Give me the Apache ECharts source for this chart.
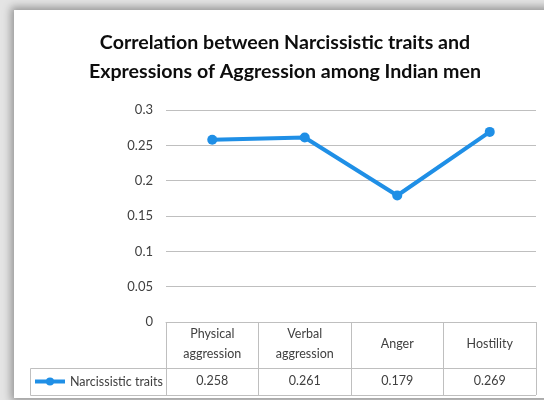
<!DOCTYPE html>
<html>
<head>
<meta charset="utf-8">
<script src="https://cdn.jsdelivr.net/npm/echarts@6/dist/echarts.min.js"></script>
<style>
html,body{margin:0;padding:0;width:544px;height:400px;overflow:hidden;background:#e4e4e4;}
#frame{position:absolute;left:14px;top:10px;width:540px;height:388px;background:#fff;box-shadow:0 0 8px 3px rgba(0,0,0,0.35);}
#chart{position:absolute;left:0;top:0;width:544px;height:400px;}
</style>
</head>
<body>
<div id="frame"></div>
<div id="chart"></div>
<script>
const titleLines = ['Correlation between Narcissistic traits and', 'Expressions of Aggression among Indian men'];
const categories = ['Physical\naggression', 'Verbal\naggression', 'Anger', 'Hostility'];
const seriesName = 'Narcissistic traits';
const values = [0.258, 0.261, 0.179, 0.269];
const yTicks = {min: 0, max: 0.3, interval: 0.05};

const labelColor = '#404040';
const borderColor = '#bfbfbf';
const lineColor = '#1f8fe6';
const font = 'Lato';

const chart = echarts.init(document.getElementById('chart'), null, {renderer: 'canvas'});
const option = {
  backgroundColor: 'transparent',
  animation: false,
  title: {
    text: titleLines.join('\n'),
    left: 280, top: 23, textAlign: 'center',
    textStyle: {fontFamily: font, fontWeight: 'bold', fontSize: 19.6, lineHeight: 29, color: '#0d0d0d'}
  },
  legend: {
    data: [seriesName],
    left: 33, top: 375, padding: 0,
    itemWidth: 30, itemHeight: 10,
    lineStyle: {width: 4},
    textStyle: {fontFamily: font, fontSize: 12.5, color: labelColor}
  },
  grid: {left: 166, right: 8, top: 110, bottom: 78, containLabel: false},
  xAxis: [{
    type: 'category', data: categories, boundaryGap: true, position: 'bottom',
    axisLine: {show: true, lineStyle: {color: borderColor, width: 1}},
    axisTick: {show: true, interval: 0, length: 73, lineStyle: {color: borderColor}},
    axisLabel: {interval: 0, margin: 22, verticalAlign: 'middle', fontFamily: font, fontSize: 12.5, lineHeight: 19.5, color: labelColor}
  }, {
    type: 'category', data: values.map(v => v.toFixed(3)), boundaryGap: true, position: 'bottom',
    axisLine: {show: false}, axisTick: {show: false},
    axisLabel: {interval: 0, margin: 59, verticalAlign: 'middle', fontFamily: font, fontSize: 12.5, color: labelColor}
  }],
  yAxis: {
    type: 'value', min: yTicks.min, max: yTicks.max, interval: yTicks.interval,
    axisLine: {show: false}, axisTick: {show: false},
    splitLine: {lineStyle: {color: borderColor, width: 1}},
    axisLabel: {margin: 13, fontFamily: font, fontSize: 13, color: labelColor}
  },
  series: [{
    name: seriesName, type: 'line', data: values, xAxisIndex: 0,
    symbol: 'circle', symbolSize: 10,
    lineStyle: {color: lineColor, width: 4},
    itemStyle: {color: lineColor}
  }]
};
chart.setOption(option);

// table borders derived from the axis scale
const c0 = chart.convertToPixel({xAxisIndex: 0}, 0);
const c1 = chart.convertToPixel({xAxisIndex: 0}, 1);
const band = c1 - c0;
const rightEdge = chart.convertToPixel({xAxisIndex: 0}, categories.length - 1) + band / 2;
const y0 = chart.convertToPixel({yAxisIndex: 0}, 0);
const tableLeft = 30.5;
const rowMid = Math.round(y0 + 46) + 0.5;
const rowBot = Math.round(y0 + 73) + 0.5;
const ls = {stroke: borderColor, lineWidth: 1};
chart.setOption({
  graphic: [
    {type: 'line', shape: {x1: tableLeft, y1: rowMid, x2: rightEdge, y2: rowMid}, style: ls, silent: true},
    {type: 'line', shape: {x1: tableLeft, y1: rowBot, x2: rightEdge, y2: rowBot}, style: ls, silent: true},
    {type: 'line', shape: {x1: tableLeft, y1: rowMid, x2: tableLeft, y2: rowBot}, style: ls, silent: true}
  ]
});
</script>
</body>
</html>
